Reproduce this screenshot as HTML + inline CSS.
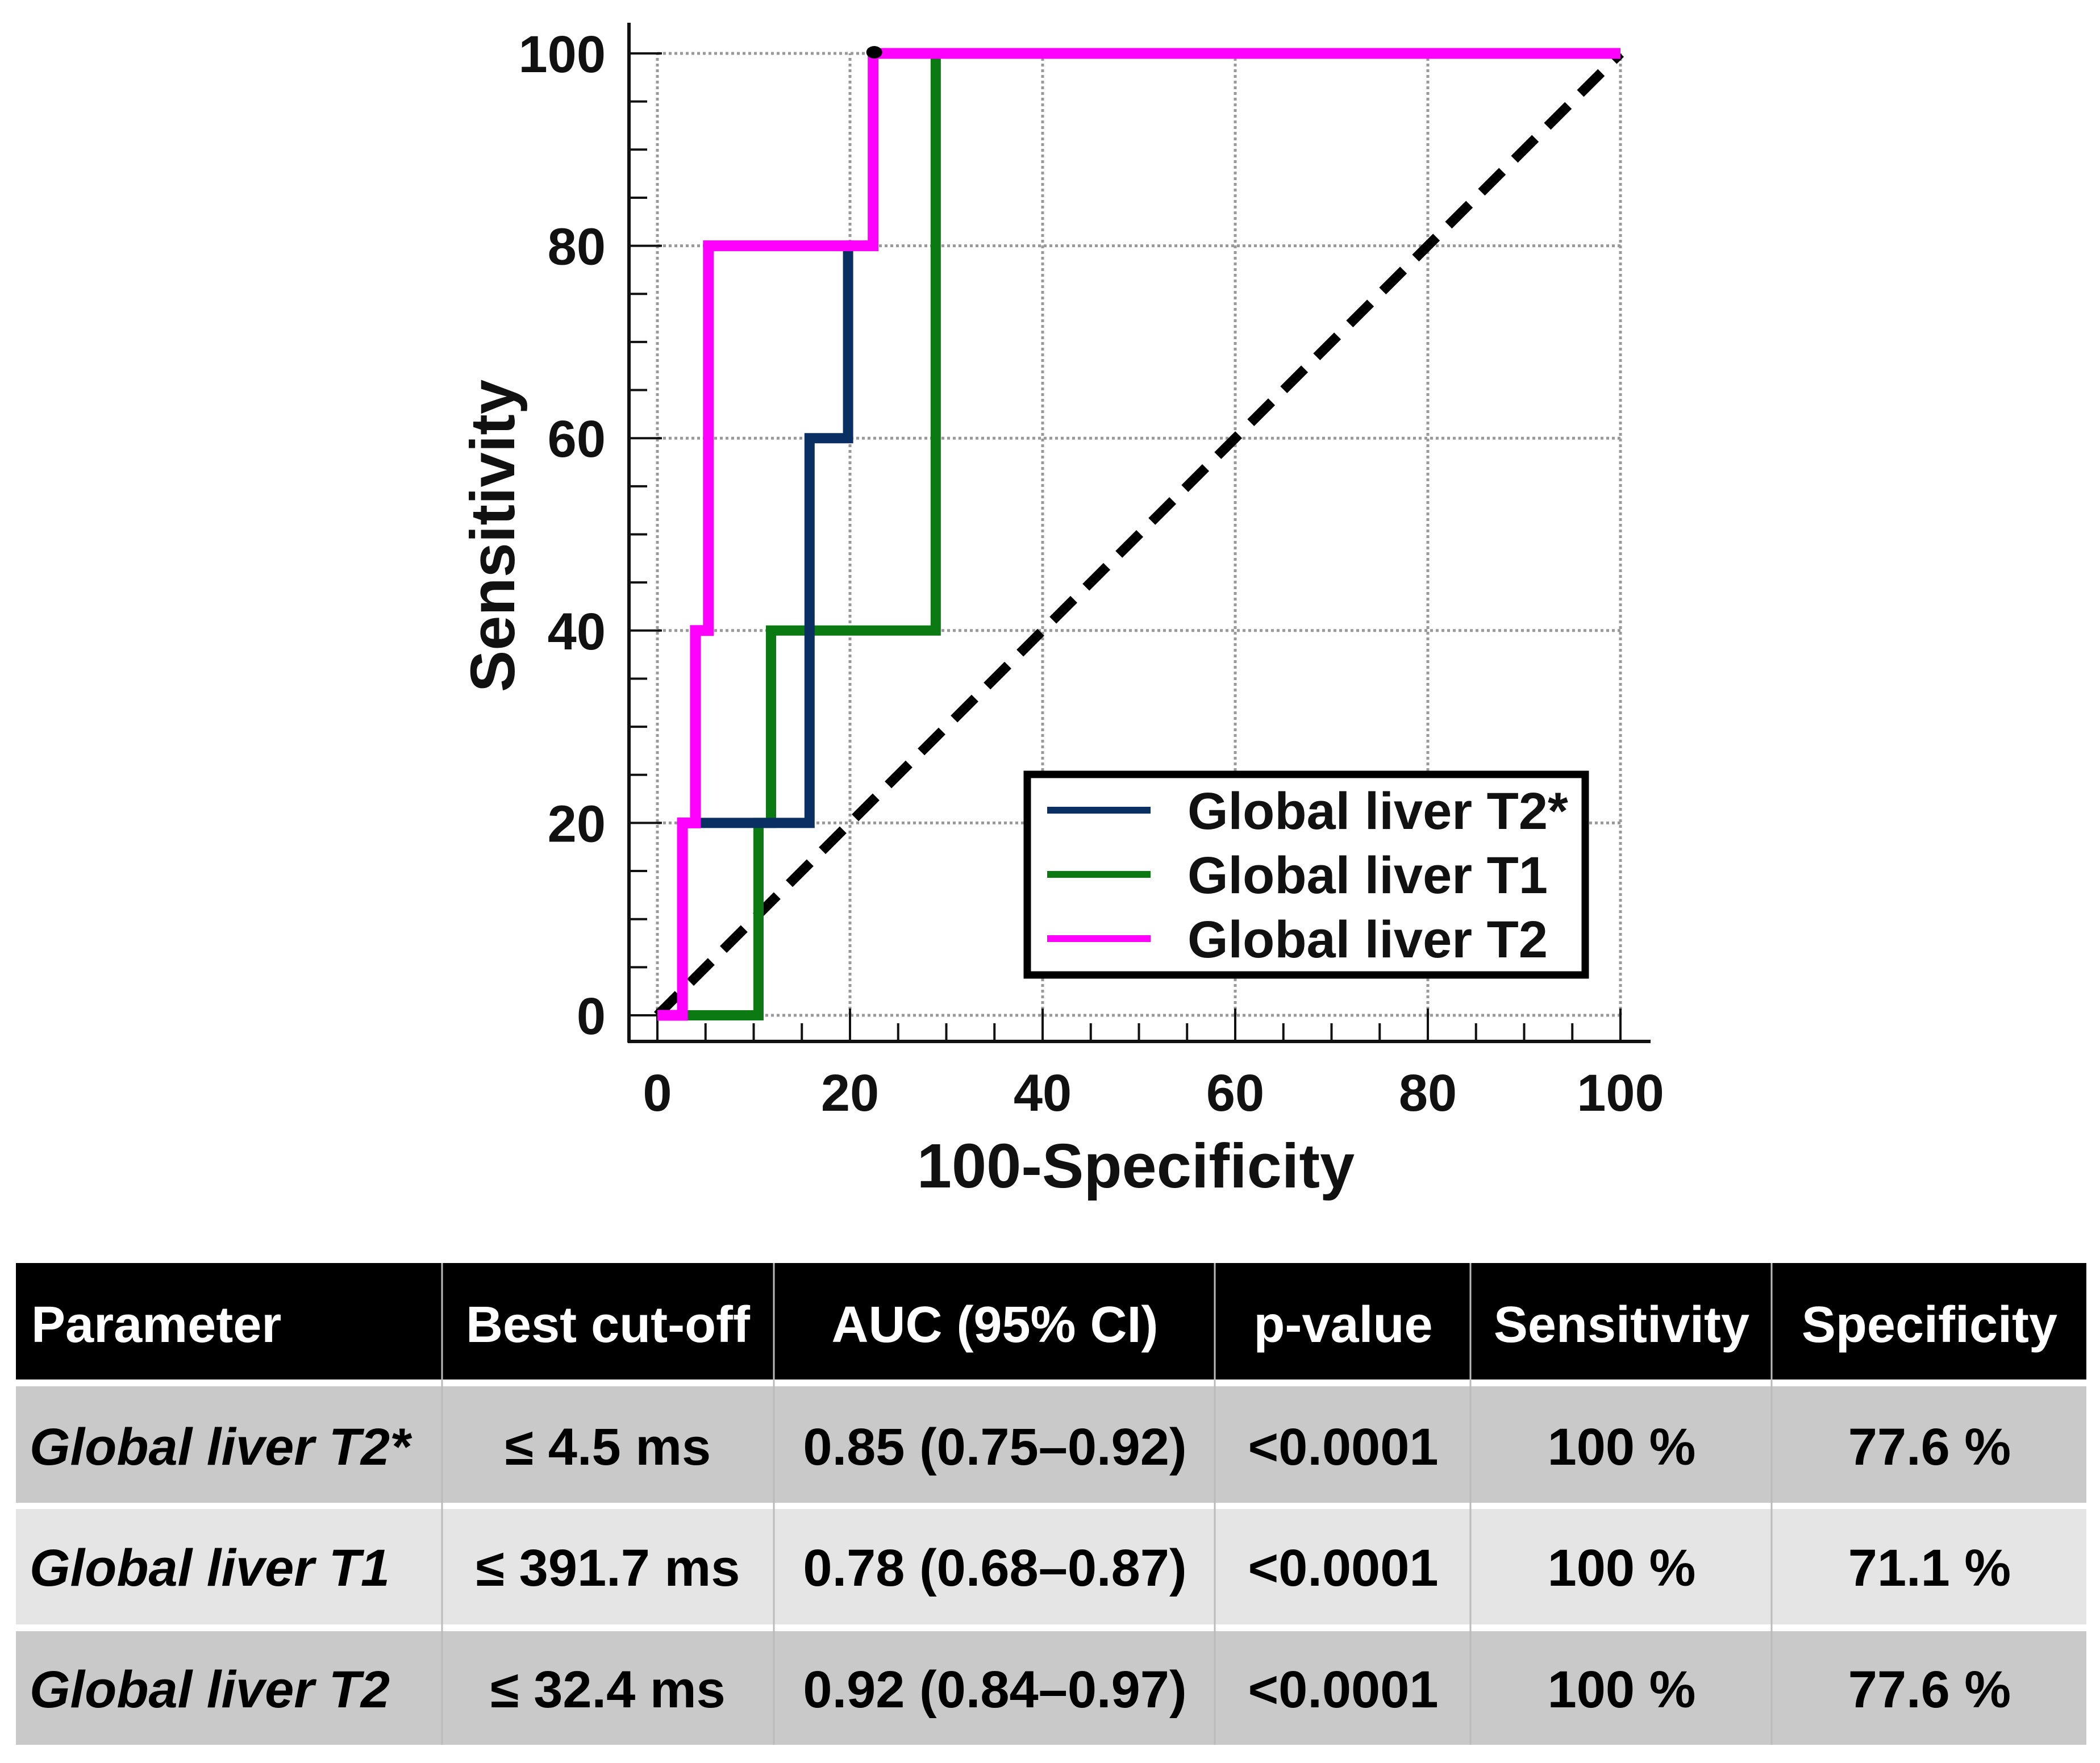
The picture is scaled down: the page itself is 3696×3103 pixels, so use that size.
<!DOCTYPE html>
<html><head><meta charset="utf-8"><style>
html,body{margin:0;padding:0;background:#fff;}
svg{display:block;font-family:"Liberation Sans",Arial,sans-serif;font-weight:bold;}
</style></head><body>
<svg id="chart" width="3696" height="3103" viewBox="0 0 3696 3103" xmlns="http://www.w3.org/2000/svg">
<g id="plot"></g>
<g id="table">
  <rect x="28" y="2223" width="3644" height="205" fill="#000"/>
  <rect x="28" y="2440" width="3644" height="205" fill="#c9c9c9"/>
  <rect x="28" y="2656" width="3644" height="203" fill="#e5e5e5"/>
  <rect x="28" y="2871" width="3644" height="200" fill="#c9c9c9"/>
  <g stroke="#bbb" stroke-width="3">
    <line x1="778" y1="2223" x2="778" y2="3071"/><line x1="1362" y1="2223" x2="1362" y2="3071"/>
    <line x1="2138" y1="2223" x2="2138" y2="3071"/><line x1="2588" y1="2223" x2="2588" y2="3071"/>
    <line x1="3118" y1="2223" x2="3118" y2="3071"/>
  </g>
  <g font-size="90" fill="#fff">
    <text x="55" y="2362">Parameter</text>
    <text x="1070" y="2362" text-anchor="middle">Best cut-off</text>
    <text x="1751" y="2362" text-anchor="middle">AUC (95% CI)</text>
    <text x="2364" y="2362" text-anchor="middle">p-value</text>
    <text x="2854" y="2362" text-anchor="middle">Sensitivity</text>
    <text x="3396" y="2362" text-anchor="middle">Specificity</text>
  </g>
  <g font-size="92" fill="#000">
    <g>
      <text x="52" y="2578" font-style="italic">Global liver T2*</text>
      <text x="1070" y="2578" text-anchor="middle">≤ 4.5 ms</text>
      <text x="1751" y="2578" text-anchor="middle">0.85 (0.75–0.92)</text>
      <text x="2364" y="2578" text-anchor="middle">&lt;0.0001</text>
      <text x="2854" y="2578" text-anchor="middle">100 %</text>
      <text x="3396" y="2578" text-anchor="middle">77.6 %</text>
    </g>
    <g>
      <text x="52" y="2791" font-style="italic">Global liver T1</text>
      <text x="1070" y="2791" text-anchor="middle">≤ 391.7 ms</text>
      <text x="1751" y="2791" text-anchor="middle">0.78 (0.68–0.87)</text>
      <text x="2364" y="2791" text-anchor="middle">&lt;0.0001</text>
      <text x="2854" y="2791" text-anchor="middle">100 %</text>
      <text x="3396" y="2791" text-anchor="middle">71.1 %</text>
    </g>
    <g>
      <text x="52" y="3005" font-style="italic">Global liver T2</text>
      <text x="1070" y="3005" text-anchor="middle">≤ 32.4 ms</text>
      <text x="1751" y="3005" text-anchor="middle">0.92 (0.84–0.97)</text>
      <text x="2364" y="3005" text-anchor="middle">&lt;0.0001</text>
      <text x="2854" y="3005" text-anchor="middle">100 %</text>
      <text x="3396" y="3005" text-anchor="middle">77.6 %</text>
    </g>
  </g>
</g>
</svg>
<script>
const seriesNames = ["Global liver T2*", "Global liver T1", "Global liver T2"];
const t2starX = [0, 2.6, 2.6, 15.8, 15.8, 19.8, 19.8, 22.4, 22.4, 100];
const t2starY = [0, 0, 20, 20, 60, 60, 80, 80, 100, 100];
const t1X = [0, 10.5, 10.5, 11.8, 11.8, 28.9, 28.9, 100];
const t1Y = [0, 0, 20, 20, 40, 40, 100, 100];
const t2X = [0, 2.6, 2.6, 3.95, 3.95, 5.3, 5.3, 22.4, 22.4, 100];
const t2Y = [0, 0, 20, 20, 40, 40, 80, 80, 100, 100];
const tickValues = [0, 20, 40, 60, 80, 100];
const tickLabels = ["0", "20", "40", "60", "80", "100"];

const NS = "http://www.w3.org/2000/svg";
const X0 = 1157, X1 = 2852, Y0 = 1787, Y1 = 94;
const sx = v => X0 + (X1 - X0) * v / 100;
const sy = v => Y0 - (Y0 - Y1) * v / 100;
const plot = document.getElementById("plot");
function mk(tag, attrs, parent) {
  const e = document.createElementNS(NS, tag);
  for (const k in attrs) e.setAttribute(k, attrs[k]);
  (parent || plot).appendChild(e);
  return e;
}
tickValues.forEach((v, i) => {
  const g1 = mk("line", {x1: sx(0), x2: sx(100), y1: sy(v), y2: sy(v), stroke: "#999", "stroke-width": 5, "stroke-dasharray": "5 5"});
  
  
  const g2 = mk("line", {x1: sx(v), x2: sx(v), y1: sy(0), y2: sy(100), stroke: "#999", "stroke-width": 5, "stroke-dasharray": "5 5"});
  
  
});

const AXL = 1107, AXB = 1833;
const ya = mk("line", {x1: AXL, x2: AXL, y1: 40, y2: AXB + 2, stroke: "#111", "stroke-width": 6});


const xa = mk("line", {x1: AXL - 2, x2: 2905, y1: AXB, y2: AXB, stroke: "#111", "stroke-width": 6});


for (let v = 0; v <= 100; v += 5) {
  const major = v % 20 === 0;
  const ty = mk("line", {x1: AXL, x2: AXL + (major ? 58 : 32), y1: sy(v), y2: sy(v), stroke: "#111", "stroke-width": 4});
  
  
  const tx = mk("line", {x1: sx(v), x2: sx(v), y1: AXB, y2: AXB - (major ? 58 : 32), stroke: "#111", "stroke-width": 4});
  
  
}
tickValues.forEach((v, i) => {
  const a = mk("text", {x: 1066, y: sy(v) + 33, "text-anchor": "end", "font-size": 92, fill: "#111"});
  a.textContent = tickLabels[i];
  
  
  const b = mk("text", {x: sx(v), y: 1955, "text-anchor": "middle", "font-size": 92, fill: "#111"});
  b.textContent = tickLabels[i];
  
  
});
const xt = mk("text", {x: 1999, y: 2090, "text-anchor": "middle", "font-size": 110, fill: "#111"});
xt.textContent = "100-Specificity";


const yt = mk("text", {x: 0, y: 0, "text-anchor": "middle", "font-size": 110, fill: "#111", transform: "translate(905,943) rotate(-90)"});
yt.textContent = "Sensitivity";



const dg = mk("line", {x1: sx(0), y1: sy(0), x2: sx(100), y2: sy(100), stroke: "#000", "stroke-width": 17, "stroke-dasharray": "52 30"});



function path(xs, ys) {
  return xs.map((x, i) => (i ? "L" : "M") + sx(x) + " " + sy(ys[i])).join(" ");
}
const colors = ["#0a2f63", "#0c7a12", "#ff00ff"];
const t1p = mk("path", {d: path(t1X, t1Y), fill: "none", stroke: colors[1], "stroke-width": 18});


const t2sp = mk("path", {d: path(t2starX, t2starY), fill: "none", stroke: colors[0], "stroke-width": 18});


const t2p = mk("path", {d: path(t2X, t2Y), fill: "none", stroke: colors[2], "stroke-width": 19});


const dot = mk("ellipse", {cx: sx(t2X[7]) + 2, cy: sy(100) - 2, rx: 14, ry: 11, fill: "#000"});



const lg = mk("g", {});


const lb = mk("rect", {x: 1808, y: 1363, width: 982, height: 353, fill: "#fff", stroke: "#000", "stroke-width": 13}, lg);


const ly = [1426, 1539, 1652];
seriesNames.forEach((n, i) => {
  const l = mk("line", {x1: 1843, x2: 2025, y1: ly[i], y2: ly[i], stroke: colors[i], "stroke-width": 12}, lg);
  
  
  const t = mk("text", {x: 2090, y: ly[i] + 33, "font-size": 92, fill: "#111"}, lg);
  t.textContent = n;
  
  
});
</script>
</body></html>
